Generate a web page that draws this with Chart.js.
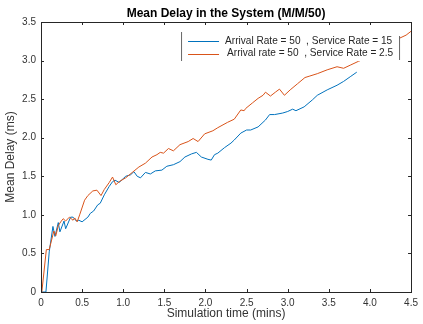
<!DOCTYPE html>
<html>
<head>
<meta charset="utf-8">
<script src="https://cdn.jsdelivr.net/npm/chart.js@4/dist/chart.umd.min.js"></script>
<style>
  html, body { margin: 0; padding: 0; background: #fff; }
  #wrap { width: 423px; height: 324px; }
</style>
</head>
<body>
<div id="wrap"><canvas id="delayChart" width="423" height="324"></canvas></div>
<script>
const xTicks = [0, 0.5, 1, 1.5, 2, 2.5, 3, 3.5, 4, 4.5];
const yTicks = [0, 0.5, 1, 1.5, 2, 2.5, 3, 3.5];
const seriesLabels = ['Arrival Rate = 50  , Service Rate = 15', 'Arrival rate = 50  , Service Rate = 2.5'];

// service rate 15 (blue)
const blueTime = [0, 0.06, 0.1, 0.145, 0.17, 0.21, 0.23, 0.28, 0.3, 0.36, 0.39, 0.43, 0.46, 0.5, 0.57, 0.6, 0.64, 0.69, 0.72, 0.77,
  0.83, 0.87, 0.9, 0.95, 1.0, 1.03, 1.09, 1.13, 1.17, 1.21, 1.27, 1.33, 1.39, 1.47, 1.53, 1.61, 1.69, 1.75, 1.83, 1.89,
  1.95, 2.03, 2.07, 2.11, 2.15, 2.23, 2.31, 2.35, 2.43, 2.5, 2.55, 2.64, 2.73, 2.78, 2.84, 2.94, 3.0, 3.06, 3.1, 3.2,
  3.3, 3.36, 3.48, 3.6, 3.68, 3.76, 3.84];
const blueDelay = [0, 0, 0.52, 0.85, 0.72, 0.9, 0.78, 0.92, 0.82, 0.97, 0.97, 0.92, 0.93, 0.91, 0.97, 1.02, 1.05, 1.13, 1.15, 1.26,
  1.37, 1.43, 1.45, 1.42, 1.47, 1.5, 1.52, 1.56, 1.5, 1.48, 1.55, 1.53, 1.57, 1.58, 1.63, 1.65, 1.69, 1.75, 1.79, 1.81,
  1.75, 1.72, 1.71, 1.78, 1.8, 1.87, 1.93, 1.97, 2.06, 2.1, 2.1, 2.14, 2.23, 2.3, 2.3, 2.32, 2.34, 2.37, 2.35, 2.4,
  2.49, 2.55, 2.62, 2.68, 2.73, 2.79, 2.85];

// service rate 2.5 (orange)
const orangeTime = [0.01, 0.065, 0.1, 0.156, 0.18, 0.21, 0.24, 0.27, 0.3, 0.345, 0.39, 0.41, 0.44, 0.47, 0.53, 0.57, 0.63, 0.68, 0.73, 0.77,
  0.83, 0.87, 0.91, 0.95, 1.03, 1.11, 1.19, 1.27, 1.35, 1.41, 1.45, 1.49, 1.55, 1.61, 1.69, 1.79, 1.85, 1.91, 1.99, 2.09,
  2.15, 2.27, 2.35, 2.43, 2.47, 2.49, 2.57, 2.64, 2.7, 2.73, 2.79, 2.85, 2.9, 2.96, 3.03, 3.12, 3.21, 3.27, 3.36, 3.48,
  3.6, 3.68, 3.76, 3.86, 4.0, 4.15, 4.27, 4.36, 4.44, 4.5];
const orangeDelay = [0, 0.55, 0.55, 0.79, 0.73, 0.86, 0.91, 0.95, 0.92, 0.97, 0.93, 0.96, 0.91, 1.0, 1.19, 1.25, 1.31, 1.32, 1.25, 1.33,
  1.42, 1.49, 1.39, 1.43, 1.48, 1.55, 1.62, 1.67, 1.75, 1.78, 1.81, 1.8, 1.86, 1.83, 1.91, 1.95, 1.99, 1.95, 2.05, 2.09,
  2.13, 2.2, 2.24, 2.36, 2.35, 2.38, 2.45, 2.51, 2.55, 2.59, 2.54, 2.59, 2.63, 2.55, 2.62, 2.7, 2.78, 2.8, 2.83, 2.88,
  2.92, 2.9, 2.94, 2.99, 3.05, 3.14, 3.22, 3.29, 3.33, 3.38];

const BLUE = '#0072BD';
const ORANGE = '#D95319';
const seriesColors = [BLUE, ORANGE];
const FONT = "'Liberation Sans', Arial, Helvetica, sans-serif";

const toPoints = (xs, ys) => xs.map((x, i) => ({ x, y: ys[i] }));

// MATLAB style box with inward ticks on all four sides
const boxPlugin = {
  id: 'matlabBox',
  afterDatasetsDraw: (chart) => {
    const { ctx, chartArea: a, scales } = chart;
    ctx.save();
    ctx.strokeStyle = '#262626';
    ctx.lineWidth = 1;
    ctx.beginPath();
    xTicks.forEach((v) => {
      const x = Math.round(scales.x.getPixelForValue(v)) + 0.5;
      ctx.moveTo(x, a.bottom); ctx.lineTo(x, a.bottom - 3);
      ctx.moveTo(x, a.top); ctx.lineTo(x, a.top + 3);
    });
    yTicks.forEach((v) => {
      const y = Math.round(scales.y.getPixelForValue(v)) + 0.5;
      ctx.moveTo(a.left, y); ctx.lineTo(a.left + 3, y);
      ctx.moveTo(a.right, y); ctx.lineTo(a.right - 3, y);
    });
    ctx.stroke();
    ctx.strokeRect(Math.round(a.left) + 0.5, Math.round(a.top) + 0.5, Math.round(a.right - a.left), Math.round(a.bottom - a.top));
    ctx.restore();
  },
};

const legendPlugin = {
  id: 'insideLegend',
  afterDraw: (chart) => {
    const { ctx, chartArea: a } = chart;
    const right = a.right - 12;
    const left = right - 218;
    const top = a.top + 10;
    const bottom = top + 29;
    ctx.save();
    ctx.fillStyle = '#fff';
    ctx.fillRect(left, top, right - left, bottom - top);
    ctx.strokeStyle = '#666';
    ctx.lineWidth = 1;
    ctx.beginPath();
    ctx.moveTo(left + 0.5, top); ctx.lineTo(left + 0.5, bottom);
    ctx.moveTo(right + 0.5, top + 4); ctx.lineTo(right + 0.5, bottom - 1);
    ctx.stroke();
    ctx.font = `10.1px ${FONT}`;
    ctx.textBaseline = 'middle';
    seriesLabels.forEach((label, i) => {
      const y = top + 9 + i * 12.5;
      ctx.strokeStyle = seriesColors[i];
      ctx.beginPath();
      ctx.moveTo(left + 7, Math.round(y) + 0.5);
      ctx.lineTo(left + 38, Math.round(y) + 0.5);
      ctx.stroke();
      ctx.fillStyle = '#262626';
      ctx.fillText(label, left + 44 + i * 2, y);
    });
    ctx.restore();
  },
};

new Chart(document.getElementById('delayChart'), {
  type: 'line',
  data: {
    datasets: [
      { label: seriesLabels[0], data: toPoints(blueTime, blueDelay), borderColor: BLUE, order: 1 },
      { label: seriesLabels[1], data: toPoints(orangeTime, orangeDelay), borderColor: ORANGE, order: 0 },
    ],
  },
  options: {
    responsive: false,
    animation: false,
    parsing: false,
    elements: {
      line: { borderWidth: 1, tension: 0, fill: false },
      point: { radius: 0 },
    },
    layout: { padding: { left: 0, right: 8, top: 0, bottom: 0 } },
    scales: {
      x: {
        type: 'linear',
        min: 0,
        max: 4.5,
        afterBuildTicks: (s) => { s.ticks = xTicks.map((value) => ({ value })); },
        afterFit: (s) => { s.height = 32; },
        grid: { display: false, drawTicks: false },
        border: { display: false },
        ticks: { padding: 5, color: '#333', font: { family: FONT, size: 10 }, maxRotation: 0 },
        title: { display: true, text: 'Simulation time (mins)', color: '#333', font: { family: FONT, size: 12 }, padding: { top: 0, bottom: 3 } },
      },
      y: {
        type: 'linear',
        min: 0,
        max: 3.5,
        afterBuildTicks: (s) => { s.ticks = yTicks.map((value) => ({ value })); },
        afterFit: (s) => { s.width = 41; },
        grid: { display: false, drawTicks: false },
        border: { display: false },
        ticks: { padding: 5, color: '#333', font: { family: FONT, size: 10 } },
        title: { display: true, text: 'Mean Delay (ms)', color: '#333', font: { family: FONT, size: 12 }, padding: { top: 3, bottom: 0 } },
      },
    },
    plugins: {
      legend: { display: false },
      tooltip: { enabled: false },
      title: {
        display: true,
        fullSize: false,
        text: 'Mean Delay in the System (M/M/50)',
        color: '#000',
        font: { family: FONT, size: 12, weight: 'bold', lineHeight: 1.2 },
        padding: { top: 6, bottom: 1.6 },
      },
    },
  },
  plugins: [boxPlugin, legendPlugin],
});
</script>
</body>
</html>
